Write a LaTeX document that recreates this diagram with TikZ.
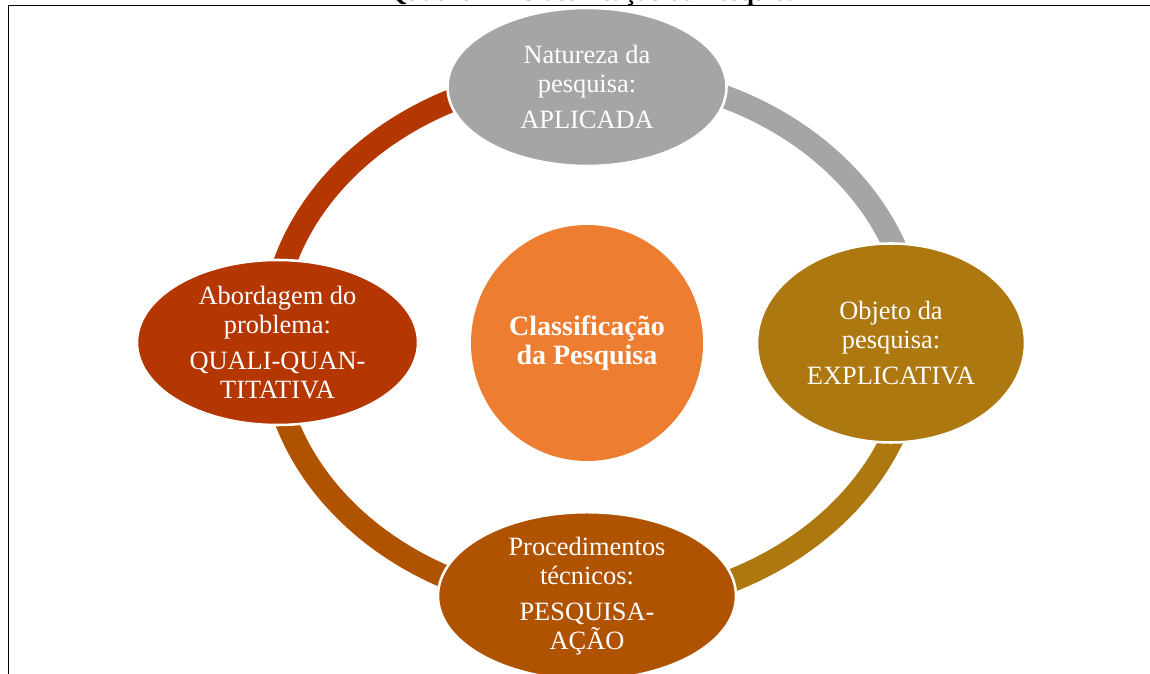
\documentclass[tikz,border=0pt]{standalone}
\usepackage{fontspec}
\setmainfont{Liberation Serif}
\usetikzlibrary{shapes.geometric}

\definecolor{greycyc}{HTML}{A5A5A5}
\definecolor{ochrecyc}{HTML}{AE7811}
\definecolor{rustcyc}{HTML}{B05300}
\definecolor{brickcyc}{HTML}{B43600}
\definecolor{corecyc}{HTML}{ED7D31}

\tikzset{
  stage/.style={ellipse, draw=white, line width=1.9pt, text=white, inner sep=0pt,
    align=center, font=\fontsize{19.8}{21.8}\selectfont},
  ringarc/.style={line width=17.25pt},
}

\begin{document}
\begin{tikzpicture}[x=0.75pt,y=0.75pt]
			%%%%% START %%%%%
			\useasboundingbox (0,0) rectangle (1150,674);
			
			\draw[line width=0.75pt] (8,0) -- (8,668) -- (1150,668);
			\node[anchor=base west, inner sep=0pt, font=\bfseries\fontsize{19.4}{22}\selectfont] (caption) at (387,673.5) {Quadro 1 – Classificação da Pesquisa};
			
			\coordinate (hub) at (593,334);
			\path (hub) ++(90:322 and 266.5) coordinate (pN);
			\path (hub) ++(0:322 and 266.5) coordinate (pE);
			\path (hub) ++(270:322 and 266.5) coordinate (pS);
			\path (hub) ++(180:322 and 266.5) coordinate (pW);
			
			\draw[ringarc, color=brickcyc] (pW) arc[start angle=180, end angle=90, x radius=322, y radius=266.5];
			\draw[ringarc, color=greycyc] (pN) arc[start angle=90, end angle=0, x radius=322, y radius=266.5];
			\draw[ringarc, color=ochrecyc] (pE) arc[start angle=0, end angle=-90, x radius=322, y radius=266.5];
			\draw[ringarc, color=rustcyc] (pS) arc[start angle=270, end angle=180, x radius=322, y radius=266.5];
			
			\node[stage, fill=greycyc, minimum width=209.25pt, minimum height=118.5pt] (nature) at (587,587) {Natureza da\\pesquisa:\\[5.5pt]APLICADA};
			\node[stage, fill=ochrecyc, minimum width=201pt, minimum height=149.25pt] (object) at (891,331) {Objeto da\\pesquisa:\\[5.5pt]EXPLICATIVA};
			\node[stage, fill=rustcyc, minimum width=223.5pt, minimum height=123pt] (method) at (587,78) {Procedimentos\\técnicos:\\[5.5pt]PESQUISA-\\AÇÃO};
			\node[stage, fill=brickcyc, minimum width=210.75pt, minimum height=123.75pt] (approach) at (277.5,331.5) {Abordagem do\\problema:\\[5.5pt]QUALI-QUAN-\\TITATIVA};
			
			\node[ellipse, fill=corecyc, minimum width=174pt, minimum height=177pt, inner sep=0pt, text=white, align=center, font=\bfseries\fontsize{21}{21.5}\selectfont] (core) at (587,331) {Classificação\\da Pesquisa};
			
			%%%%% END %%%%%
\end{tikzpicture}
\end{document}
